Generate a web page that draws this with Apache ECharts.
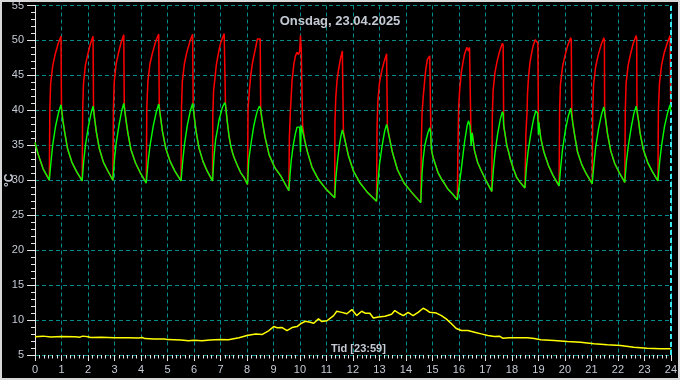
<!DOCTYPE html>
<html><head><meta charset="utf-8">
<script src="https://cdn.jsdelivr.net/npm/echarts@6/dist/echarts.min.js"></script>
<style>html,body{margin:0;padding:0;background:#000}#c{width:680px;height:380px}</style>
</head><body><div id="c"></div>
<script>
const titleText = 'Onsdag, 23.04.2025';
const xTitle = 'Tid [23:59]';
const yUnit = '°C';

// shared falling segments (red and green together), each ending at a cycle minimum
const startSegment = [[0,35.4],[0.12,33.7],[0.31,31.6],[0.50,30.3],[0.54,30.0]];
const falling = [
 [1.05,38.6],[1.12,36.9],[1.23,34.5],[1.39,32.6],[1.56,31.3],[1.78,29.9],
 [2.26,38.5],[2.32,36.8],[2.43,34.5],[2.58,32.6],[2.74,31.4],[2.94,30.0],
 [3.43,38.7],[3.50,36.9],[3.62,34.4],[3.79,32.5],[3.97,31.1],[4.20,29.6],
 [4.75,38.7],[4.81,37.0],[4.94,34.5],[5.10,32.7],[5.28,31.3],[5.51,29.9],
 [6.02,38.8],[6.08,37.0],[6.19,34.6],[6.34,32.7],[6.50,31.3],[6.70,29.9],
 [7.26,38.3],[7.32,36.4],[7.39,34.9],[7.45,34.0],[7.51,33.3],[7.64,32.1],[7.76,31.1],[7.89,30.4],[8.02,29.4],
 [8.59,38.2],[8.68,36.2],[8.84,33.6],[9.05,31.8],[9.28,30.6],[9.58,28.5],
 [10.18,35.7],[10.28,34.1],[10.46,31.8],[10.70,30.1],[10.97,28.8],[11.31,27.5],
 [11.73,35.2],[11.83,33.5],[12.02,31.3],[12.27,29.6],[12.54,28.3],[12.89,27.0],
 [13.39,35.8],[13.49,34.0],[13.68,31.5],[13.93,29.6],[14.21,28.3],[14.56,26.8],
 [14.96,34.5],[15.02,33.3],[15.09,32.5],[15.21,31.1],[15.34,30.2],[15.46,29.5],[15.59,28.7],[15.77,28.0],[15.94,27.2],
 [16.59,34.2],[16.71,32.5],[16.84,31.4],[17.03,29.9],[17.24,28.4],
 [17.69,37.8],[17.75,36.4],[17.81,34.9],[17.88,34.0],[17.94,33.0],[18.06,31.6],[18.18,30.4],[18.31,29.7],[18.49,28.9],
 [19.03,37.8],[19.09,36.0],[19.21,34.0],[19.38,32.1],[19.55,30.7],[19.78,29.2],
 [20.30,38.1],[20.37,36.4],[20.48,34.0],[20.64,32.2],[20.81,30.9],[21.03,29.5],
 [21.55,38.3],[21.61,36.6],[21.73,34.2],[21.88,32.4],[22.05,31.1],[22.26,29.7],
 [22.78,38.5],[22.84,36.7],[22.96,34.4],[23.12,32.6],[23.29,31.3],[23.51,29.9]
];
// red (supply) rising part, peak and drop of each cycle
const redRising = [
 [0.56,40.1],[0.59,43.8],[0.67,46.4],[0.76,48.0],[0.87,49.5],[0.98,50.6],[1.00,40.5],
 [1.80,40.1],[1.83,43.8],[1.90,46.4],[1.99,48.0],[2.09,49.5],[2.19,50.6],[2.21,40.3],
 [2.96,40.3],[2.99,44.0],[3.06,46.6],[3.15,48.2],[3.25,49.7],[3.35,50.8],[3.37,40.7],
 [4.22,40.4],[4.26,44.1],[4.34,46.7],[4.44,48.3],[4.55,49.8],[4.67,50.9],[4.69,40.6],
 [5.53,40.4],[5.56,44.1],[5.64,46.7],[5.73,48.3],[5.84,49.8],[5.95,50.9],[5.97,40.7],
 [6.71,39.2],[6.74,42.8],[6.79,44.5],[6.84,46.4],[6.89,47.5],[6.95,48.7],[7.01,49.7],[7.08,50.4],[7.14,51.0],[7.17,50.8],[7.19,40.8],
 [8.04,40.2],[8.09,42.8],[8.14,44.9],[8.20,46.6],[8.26,47.8],[8.33,49.0],[8.39,50.2],[8.45,50.4],[8.50,50.2],[8.52,39.7],
 [9.60,36.0],[9.64,39.9],[9.70,44.2],[9.77,46.6],[9.83,47.8],[9.89,48.3],[9.95,48.0],[9.99,48.5],[10.02,50.7],[10.05,48.5],[10.09,48.3],[10.10,37.8],
 [11.32,38.0],[11.35,41.7],[11.40,44.3],[11.46,45.9],[11.53,47.4],[11.60,48.5],[11.62,48.3],[11.64,37.0],
 [12.91,37.6],[12.94,41.3],[13.00,43.9],[13.08,45.5],[13.18,47.0],[13.27,48.1],[13.29,47.9],[13.30,37.8],
 [14.58,35.4],[14.61,39.7],[14.65,41.8],[14.69,43.5],[14.73,45.2],[14.77,46.4],[14.81,47.3],[14.90,47.8],[14.93,47.6],[14.94,36.5],
 [15.96,34.0],[15.99,40.6],[16.03,43.0],[16.09,45.4],[16.15,46.8],[16.21,48.0],[16.27,48.7],[16.31,49.0],[16.36,48.5],[16.40,49.0],[16.45,49.0],[16.46,35.5],[16.50,36.8],
 [17.26,39.1],[17.29,42.8],[17.36,45.4],[17.44,47.0],[17.54,48.5],[17.64,49.6],[17.67,49.3],
 [18.53,36.8],[18.57,39.7],[18.59,42.5],[18.63,44.9],[18.68,46.8],[18.75,48.3],[18.80,49.2],[18.88,50.1],[18.93,50.2],[18.98,49.6],[19.00,38.5],[19.02,38.3],
 [19.80,39.9],[19.83,43.6],[19.91,46.2],[20.00,47.8],[20.11,49.3],[20.22,50.4],[20.24,50.1],[20.26,39.8],
 [21.05,39.9],[21.08,43.6],[21.16,46.2],[21.25,47.8],[21.36,49.3],[21.47,50.4],[21.49,50.0],[21.50,40.0],
 [22.28,40.2],[22.31,43.9],[22.39,46.5],[22.48,48.1],[22.58,49.6],[22.69,50.7],[22.71,50.3],[22.72,40.1],
 [23.53,40.2],[23.57,43.9],[23.65,46.5],[23.74,48.1],[23.86,49.6],[23.97,50.7],[23.99,41.2],[24.00,40.4]
];
// green (return) rising part of each cycle
const greenRising = [
 [0.61,32.9],[0.67,35.1],[0.78,37.8],[0.89,39.7],[0.98,40.8],[1.00,40.6],
 [1.84,32.8],[1.90,34.9],[2.01,37.6],[2.11,39.5],[2.19,40.6],[2.21,40.4],
 [3.00,33.0],[3.06,35.2],[3.17,37.9],[3.27,39.9],[3.35,41.0],[3.37,40.8],
 [4.27,32.7],[4.34,34.9],[4.46,37.7],[4.58,39.8],[4.67,40.9],[4.69,40.7],
 [5.58,32.9],[5.64,35.1],[5.75,37.9],[5.86,39.9],[5.95,41.0],[5.97,40.8],
 [6.76,33.5],[6.82,35.9],[6.89,37.3],[6.95,38.7],[7.01,39.5],[7.07,40.4],[7.16,41.1],[7.19,40.8],
 [8.07,33.0],[8.14,34.9],[8.20,36.4],[8.26,37.8],[8.33,39.0],[8.39,39.9],[8.47,40.6],[8.51,40.3],
 [9.63,31.0],[9.67,32.8],[9.75,35.1],[9.83,36.7],[9.89,37.6],[9.99,37.6],[10.02,34.0],[10.05,37.8],[10.09,37.8],
 [11.35,30.1],[11.40,32.1],[11.47,34.5],[11.54,36.2],[11.60,37.2],[11.64,37.0],
 [12.95,30.0],[13.00,32.2],[13.10,34.9],[13.19,36.9],[13.27,38.0],[13.30,37.8],
 [14.61,31.1],[14.65,33.0],[14.71,34.9],[14.77,35.9],[14.83,36.8],[14.90,37.5],[14.93,37.0],
 [16.09,31.6],[16.21,35.4],[16.31,37.8],[16.36,38.5],[16.42,37.8],[16.46,34.9],[16.50,36.8],
 [17.30,31.5],[17.36,33.8],[17.46,36.6],[17.56,38.7],[17.64,39.8],[17.67,39.5],
 [18.55,31.9],[18.61,34.1],[18.72,36.8],[18.82,38.8],[18.90,39.9],[18.97,39.6],[19.00,36.5],[19.02,38.3],
 [19.85,32.2],[19.91,34.4],[20.02,37.2],[20.13,39.2],[20.22,40.3],[20.25,40.1],
 [21.10,32.5],[21.16,34.7],[21.27,37.4],[21.38,39.4],[21.47,40.5],[21.50,40.3],
 [22.32,32.6],[22.39,34.8],[22.50,37.5],[22.60,39.5],[22.69,40.6],[22.72,40.4],
 [23.58,32.8],[23.65,35.0],[23.76,37.7],[23.88,39.7],[23.97,40.8],[24.00,39.8]
];
// outdoor temperature (yellow)
const outdoor = [
 [0,7.62],[0.3,7.7],[0.6,7.58],[1.0,7.64],[1.5,7.6],[1.7,7.55],[1.8,7.7],[2.0,7.6],[2.1,7.5],[2.5,7.55],
 [3.0,7.48],[3.5,7.45],[3.9,7.43],[4.05,7.5],[4.15,7.35],[4.5,7.3],[4.9,7.28],[5.0,7.2],[5.5,7.15],[5.8,7.05],
 [6.0,7.1],[6.3,7.05],[6.6,7.15],[7.0,7.2],[7.3,7.17],[7.7,7.46],[8.0,7.79],[8.33,8.02],[8.58,7.95],[8.83,8.5],
 [9.01,9.07],[9.14,8.9],[9.33,8.93],[9.51,8.5],[9.70,8.93],[9.89,9.07],[10.02,9.45],[10.20,9.83],[10.39,9.69],[10.52,9.55],
 [10.70,10.17],[10.83,9.78],[11.02,9.9],[11.08,9.78],[11.27,10.64],[11.39,11.26],[11.58,11.1],[11.77,10.9],[11.96,11.5],[12.14,10.64],
 [12.33,11.26],[12.46,10.98],[12.64,10.98],[12.77,10.3],[12.96,10.45],[13.21,10.55],[13.46,10.83],[13.58,11.36],[13.77,10.9],[13.90,10.64],
 [14.08,11.1],[14.27,10.64],[14.46,11.1],[14.65,11.69],[14.77,11.45],[14.90,11.1],[15.15,11.0],[15.34,10.64],[15.52,10.17],[15.71,9.5],
 [15.90,8.8],[16.09,8.5],[16.34,8.5],[16.59,8.26],[16.84,8.02],[17.09,7.79],[17.34,7.64],[17.53,7.69],[17.65,7.4],[17.90,7.46],
 [18.22,7.46],[18.59,7.46],[18.84,7.36],[19.09,7.17],[19.59,7.07],[20.09,6.93],[20.59,6.83],[21.10,6.6],[21.60,6.45],[22.10,6.36],
 [22.60,6.12],[23.10,5.98],[23.60,5.88],[24.0,5.88]
];

function merge() {
  let all = [];
  for (const a of arguments) all = all.concat(a);
  return all.sort((p, q) => p[0] - q[0]);
}
const redData = merge(startSegment, falling, redRising);
const greenData = merge(startSegment, falling, greenRising);

const txt = '#c4cad4';
const axisCol = '#e6e6e6';
const gridCol = '#008c8c';
const font = 'Liberation Sans, Arial, sans-serif';

const chart = echarts.init(document.getElementById('c'), null, {renderer: 'canvas'});
chart.setOption({
  backgroundColor: '#000',
  animation: false,
  title: {
    text: titleText, left: 'center', top: 10,
    textStyle: {color: txt, fontSize: 13, fontWeight: 'bold', fontFamily: font}
  },
  grid: {left: 35, right: 6, top: 4.5, bottom: 25},
  xAxis: {
    type: 'value', min: 0, max: 24, interval: 1,
    axisLine: {show: false},
    axisTick: {show: true, length: 6, lineStyle: {color: axisCol}},
    minorTick: {show: true, splitNumber: 6, length: 3.5, lineStyle: {color: axisCol}},
    axisLabel: {color: txt, fontSize: 11, margin: 9, fontFamily: font},
    splitLine: {show: true, lineStyle: {color: gridCol, type: [4, 3], width: 1}}
  },
  yAxis: {
    type: 'value', min: 5, max: 55, interval: 5,
    axisLine: {show: true, lineStyle: {color: axisCol, width: 1}},
    axisTick: {show: true, length: 8, lineStyle: {color: axisCol}},
    minorTick: {show: true, splitNumber: 5, length: 4, lineStyle: {color: axisCol}},
    axisLabel: {color: txt, fontSize: 11, margin: 11, fontFamily: font},
    splitLine: {show: true, lineStyle: {color: gridCol, type: [4, 3], width: 1}}
  },
  graphic: [
    {type: 'text', left: 331, top: 343, z: 10,
     style: {text: xTitle, fill: txt, font: 'bold 11px ' + font}},
    {type: 'text', x: 4, y: 187, rotation: Math.PI / 2, z: 10,
     style: {text: yUnit, fill: txt, font: 'bold 12px ' + font}},
    {type: 'rect', z: 100, shape: {x: 1, y: 1, width: 678, height: 378},
     style: {fill: 'none', stroke: '#d8d8d8', lineWidth: 2}}
  ],
  series: [
    {type: 'line', data: outdoor, showSymbol: false, z: 3,
     lineStyle: {color: '#ffff00', width: 1.5}, itemStyle: {color: '#ffff00'},
     markLine: {silent: true, symbol: 'none', label: {show: false},
       lineStyle: {color: '#3ee6f4', type: [5, 3], width: 2},
       data: [{xAxis: 24}]}},
    {type: 'line', data: redData, showSymbol: false, z: 4,
     lineStyle: {color: '#ff0000', width: 1.5}, itemStyle: {color: '#ff0000'}},
    {type: 'line', data: greenData, showSymbol: false, z: 5,
     lineStyle: {color: '#00ff00', width: 1.4}, itemStyle: {color: '#00ff00'}}
  ]
});
</script>
</body></html>
